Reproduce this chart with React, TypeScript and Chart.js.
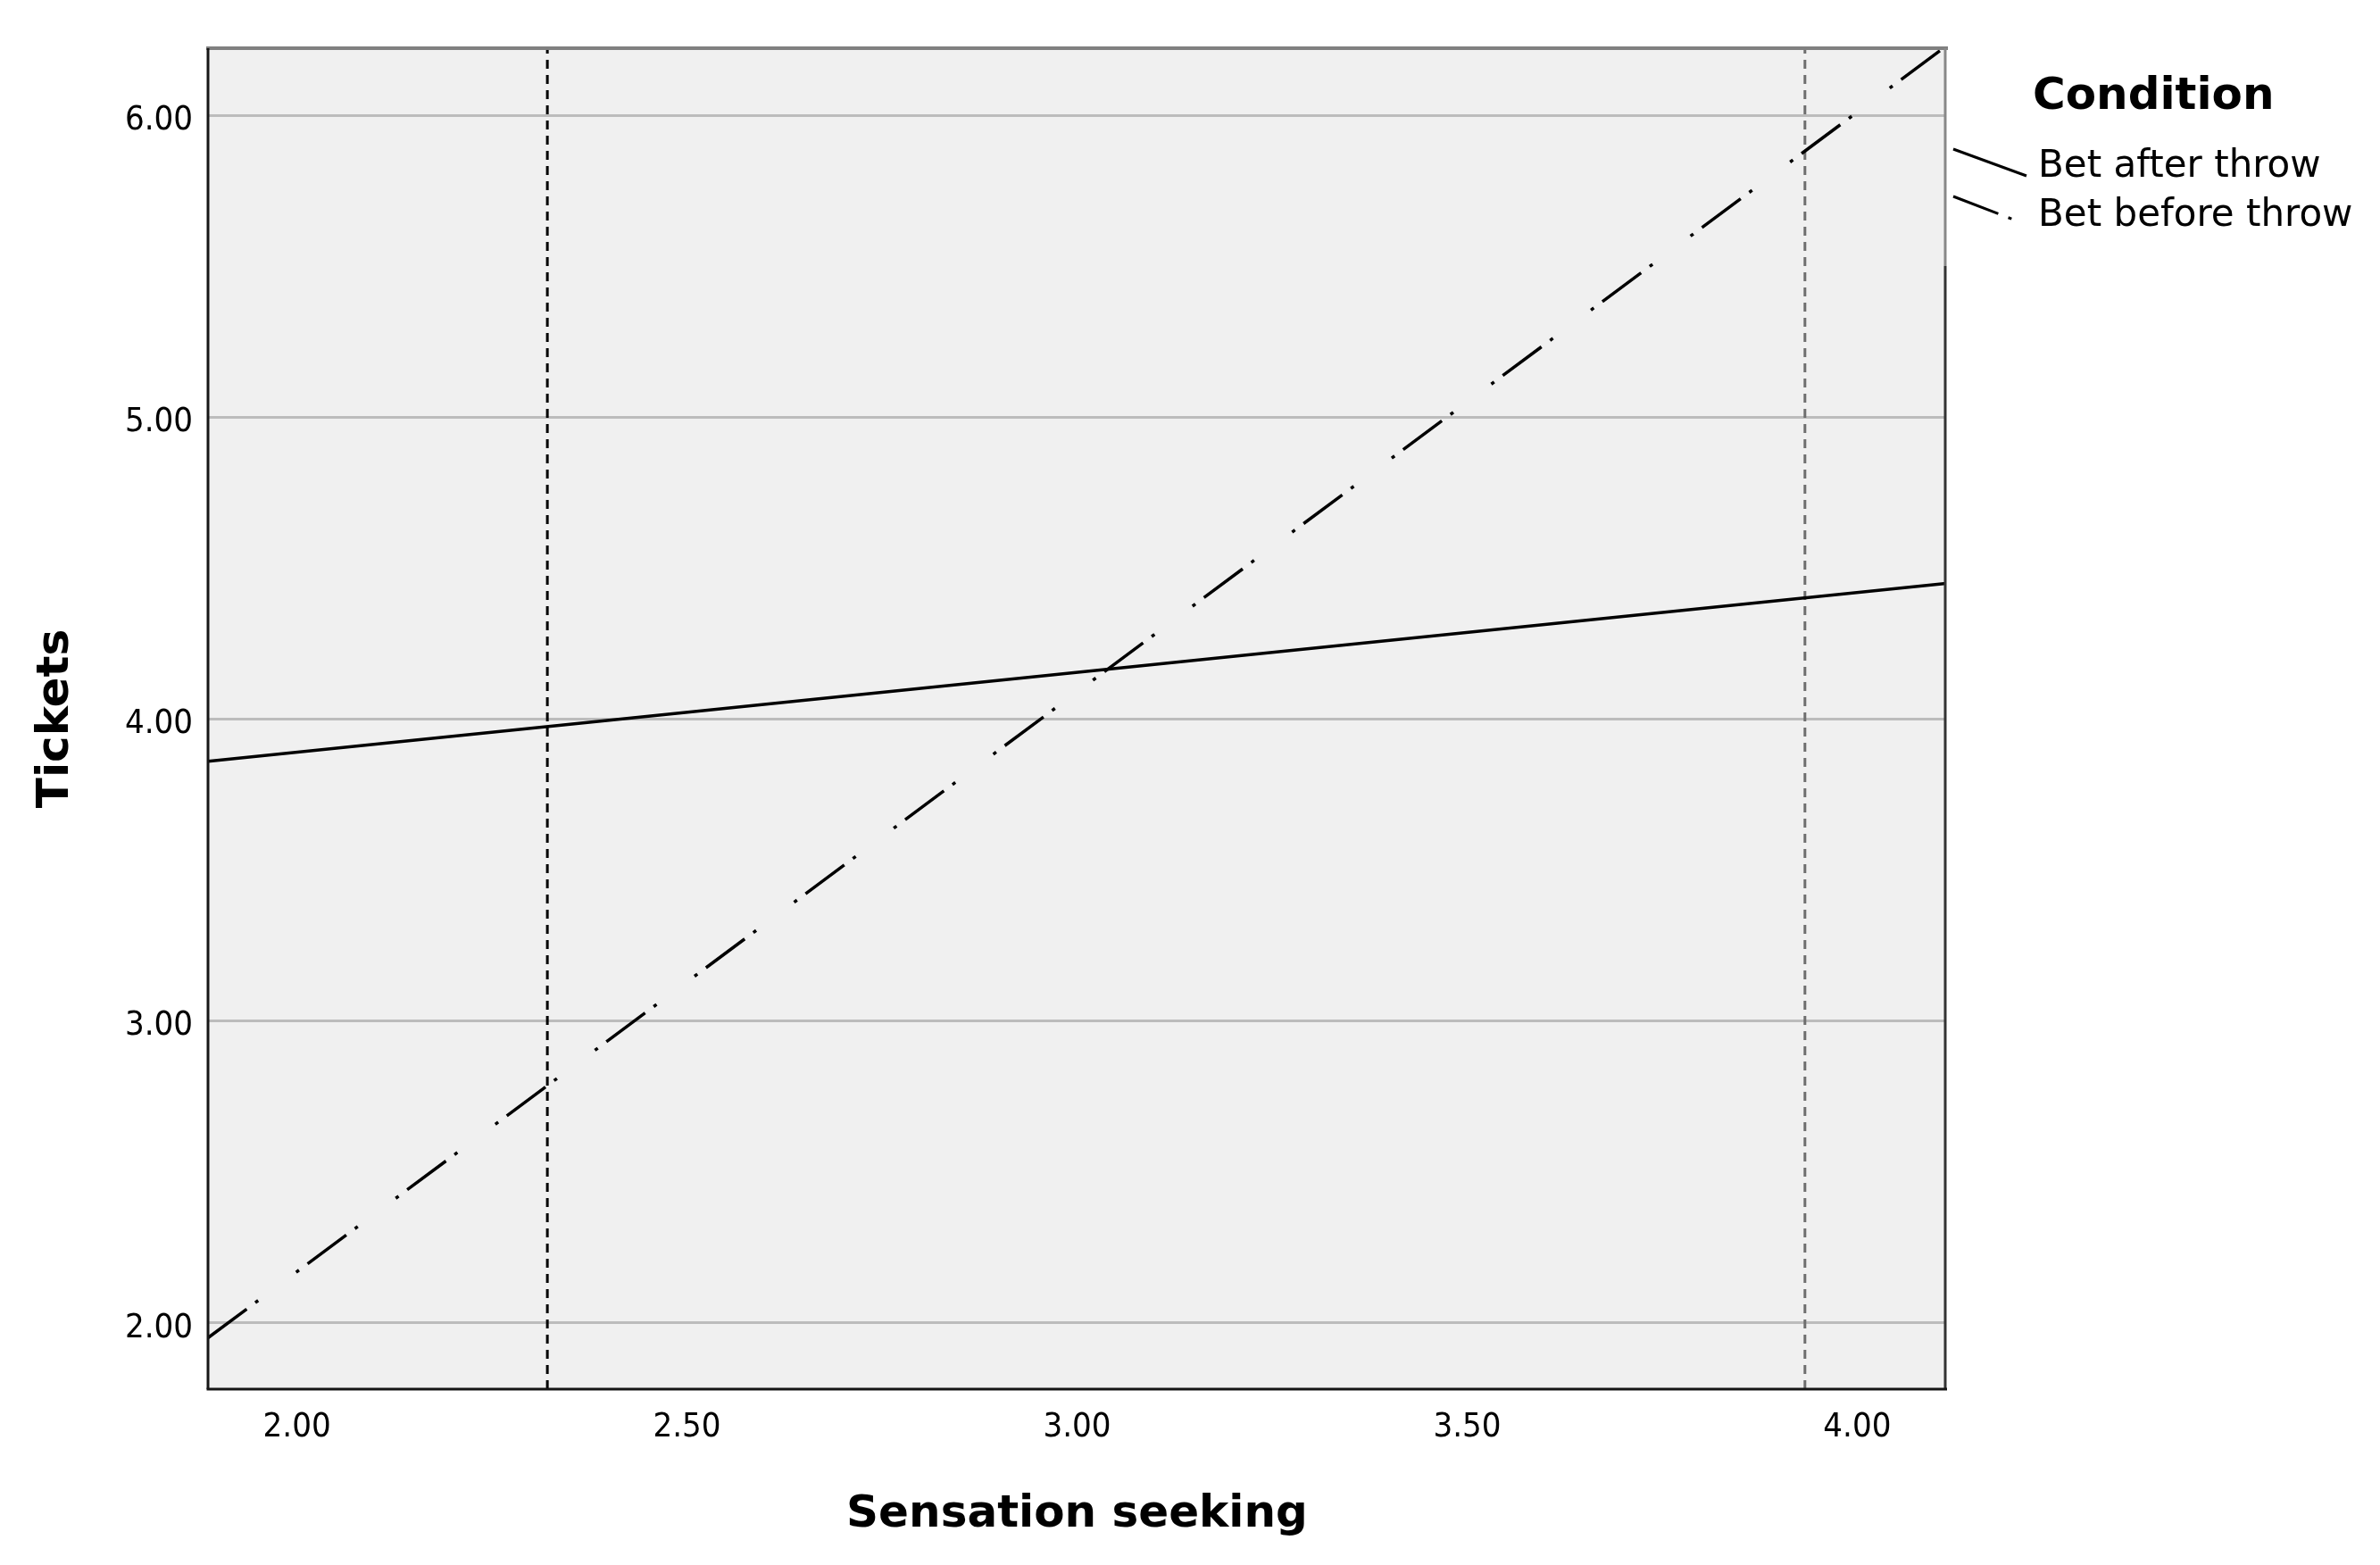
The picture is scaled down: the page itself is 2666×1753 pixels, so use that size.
import React, { useEffect, useRef } from "react";
import { Chart, registerables } from "chart.js";

Chart.register(...registerables);

// ---- data ----
const sensationRange = [1.886, 4.114]; // x extent of the fitted lines
const betAfterThrow = [3.86, 4.45]; // Tickets at the two x extents
const betBeforeThrow = [1.95, 6.23];
const refLinesX = [2.321, 3.933]; // vertical dashed reference lines (mean ± 1 SD)
const xTickValues = [2.0, 2.5, 3.0, 3.5, 4.0];
const yTickValues = [2, 3, 4, 5, 6];
const xMin = 1.886;
const xMax = 4.114;
const yMin = 1.78;
const yMax = 6.223;
const seriesNames = ["Bet after throw", "Bet before throw"];
const legendTitle = "Condition";
const xTitle = "Sensation seeking";
const yTitle = "Tickets";

const W = 2666;
const H = 1753;
const DASH_DOT = [54, 12, 4, 53, 4, 12];
const TICK_FONT = "'DejaVu Sans Condensed', 'DejaVu Sans', sans-serif";
const TEXT_FONT = "'DejaVu Sans', sans-serif";

const framePlugin = {
  id: "frameAndText",
  beforeDraw(chart: any) {
    const { ctx, chartArea: a } = chart;
    ctx.save();
    ctx.fillStyle = "#f0f0f0";
    ctx.fillRect(a.left, a.top, a.right - a.left, a.bottom - a.top);
    ctx.restore();
  },
  afterDraw(chart: any) {
    const { ctx, chartArea: a } = chart;
    ctx.save();
    // frame
    ctx.lineCap = "butt";
    ctx.strokeStyle = "#808080";
    ctx.lineWidth = 4;
    ctx.beginPath();
    ctx.moveTo(a.left - 2, a.top);
    ctx.lineTo(a.right + 2, a.top);
    ctx.stroke();
    ctx.lineWidth = 3;
    ctx.strokeStyle = "#888888";
    ctx.beginPath();
    ctx.moveTo(a.right - 1, a.top);
    ctx.lineTo(a.right - 1, 298);
    ctx.stroke();
    ctx.strokeStyle = "#333333";
    ctx.beginPath();
    ctx.moveTo(a.right - 1, 298);
    ctx.lineTo(a.right - 1, a.bottom);
    ctx.stroke();
    ctx.strokeStyle = "#161616";
    ctx.beginPath();
    ctx.moveTo(a.left, a.top);
    ctx.lineTo(a.left, a.bottom);
    ctx.stroke();
    ctx.beginPath();
    ctx.moveTo(a.left - 1.5, a.bottom);
    ctx.lineTo(a.right + 1, a.bottom);
    ctx.stroke();

    // axis titles
    ctx.fillStyle = "#000";
    ctx.font = `bold 50px ${TEXT_FONT}`;
    ctx.textAlign = "center";
    ctx.textBaseline = "middle";
    ctx.fillText(xTitle, (a.left + a.right) / 2, 1697);
    ctx.save();
    ctx.translate(63, (a.top + a.bottom) / 2);
    ctx.rotate(-Math.PI / 2);
    ctx.fillText(yTitle, 0, 0);
    ctx.restore();

    // legend
    ctx.textAlign = "left";
    ctx.textBaseline = "alphabetic";
    ctx.font = `bold 50px ${TEXT_FONT}`;
    ctx.fillText(legendTitle, 2277, 122);
    ctx.font = `42px ${TEXT_FONT}`;
    ctx.fillText(seriesNames[0], 2283, 198);
    ctx.fillText(seriesNames[1], 2283, 253);
    ctx.strokeStyle = "#000";
    ctx.lineWidth = 3;
    ctx.beginPath();
    ctx.moveTo(2188, 167);
    ctx.lineTo(2270, 197);
    ctx.stroke();
    ctx.setLineDash(DASH_DOT);
    ctx.beginPath();
    ctx.moveTo(2188, 220);
    ctx.lineTo(2258, 247);
    ctx.stroke();
    ctx.restore();
  },
};

export default function App() {
  const ref = useRef<HTMLCanvasElement | null>(null);

  useEffect(() => {
    if (!ref.current) return;
    const chart = new Chart(ref.current, {
      type: "scatter",
      data: {
        datasets: [
          {
            label: seriesNames[0],
            data: sensationRange.map((x, i) => ({ x, y: betAfterThrow[i] })),
            showLine: true,
            borderColor: "#000",
            borderWidth: 3.5,
            pointRadius: 0,
            order: 1,
          },
          {
            label: seriesNames[1],
            data: sensationRange.map((x, i) => ({ x, y: betBeforeThrow[i] })),
            showLine: true,
            borderColor: "#000",
            borderWidth: 3.5,
            borderDash: DASH_DOT,
            borderCapStyle: "butt",
            pointRadius: 0,
            order: 2,
          },
          {
            label: "ref1",
            data: [
              { x: refLinesX[0], y: yMin },
              { x: refLinesX[0], y: yMax },
            ],
            showLine: true,
            borderColor: "#000",
            borderWidth: 3,
            borderDash: [10, 7],
            pointRadius: 0,
            order: 3,
          },
          {
            label: "ref2",
            data: [
              { x: refLinesX[1], y: yMin },
              { x: refLinesX[1], y: yMax },
            ],
            showLine: true,
            borderColor: "#6e6e6e",
            borderWidth: 3,
            borderDash: [10, 7],
            pointRadius: 0,
            order: 4,
          },
        ],
      },
      options: {
        animation: false,
        responsive: false,
        devicePixelRatio: 1,
        layout: { padding: { left: 0, top: 54, right: W - 2180, bottom: 0 } },
        plugins: {
          legend: { display: false },
          tooltip: { enabled: false },
          title: { display: false },
        },
        scales: {
          x: {
            type: "linear",
            min: xMin,
            max: xMax,
            afterBuildTicks: (s: any) => {
              s.ticks = xTickValues.map((v) => ({ value: v }));
            },
            afterFit: (s: any) => {
              s.height = H - 1556;
            },
            grid: { display: false, drawTicks: false },
            border: { display: false },
            ticks: {
              padding: 20,
              color: "#000",
              font: { family: TICK_FONT, size: 38 },
              maxRotation: 0,
              callback: (v: any) => Number(v).toFixed(2),
            },
          },
          y: {
            type: "linear",
            min: yMin,
            max: yMax,
            afterBuildTicks: (s: any) => {
              s.ticks = yTickValues.map((v) => ({ value: v }));
            },
            afterFit: (s: any) => {
              s.width = 233;
            },
            grid: { color: "#bcbcbc", lineWidth: 3, drawTicks: false },
            border: { display: false },
            ticks: {
              padding: 17,
              labelOffset: 6,
              color: "#000",
              font: { family: TICK_FONT, size: 38 },
              callback: (v: any) => Number(v).toFixed(2),
            },
          },
        },
      },
      plugins: [framePlugin],
    } as any);
    return () => chart.destroy();
  }, []);

  return (
    <div style={{ position: "absolute", left: 0, top: 0, width: W, height: H, background: "#fff" }}>
      <canvas ref={ref} width={W} height={H} style={{ display: "block" }} />
    </div>
  );
}
